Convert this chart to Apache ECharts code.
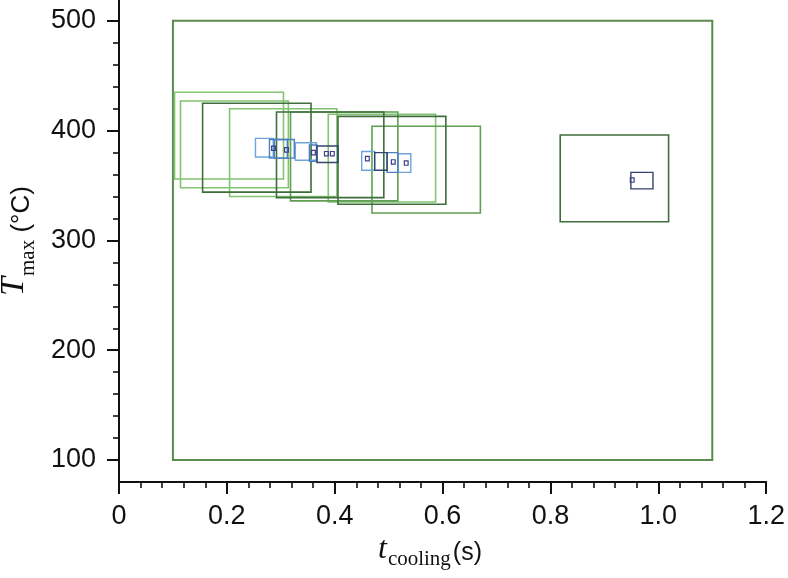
<!DOCTYPE html>
<html>
<head>
<meta charset="utf-8">
<script src="https://cdn.jsdelivr.net/npm/echarts@6/dist/echarts.min.js"></script>
<style>html,body{margin:0;padding:0;background:#fff}#c{width:788px;height:578px}</style>
</head>
<body>
<div id="c"></div>
<script>
// Rectangles as [t0, t1, Tlow, Thigh]
const outerBox = [[0.1, 1.1, 100, 500]];
const greenLightBoxes = [
  [0.103, 0.305, 356, 435],
  [0.114, 0.314, 348, 427],
  [0.205, 0.404, 340, 420],
  [0.388, 0.587, 335, 415]
];
const greenMidBoxes = [
  [0.318, 0.517, 336, 417],
  [0.469, 0.670, 325, 404]
];
const greenDarkBoxes = [
  [0.155, 0.356, 344, 425],
  [0.292, 0.491, 339, 417],
  [0.406, 0.606, 333, 413],
  [0.818, 1.019, 317, 396]
];
const blueLightBoxes = [
  [0.253, 0.286, 376, 393],
  [0.327, 0.366, 373, 389],
  [0.450, 0.474, 364, 381],
  [0.517, 0.541, 362, 379]
];
const blueBoxes = [
  [0.279, 0.312, 375, 392],
  [0.288, 0.325, 375, 392],
  [0.353, 0.367, 372, 387],
  [0.497, 0.517, 362, 380]
];
const navyBoxes = [
  [0.367, 0.406, 371, 386],
  [0.474, 0.497, 364, 380],
  [0.949, 0.990, 347, 362]
];
const tinyBoxes = [
  [0.283, 0.290, 382, 386],
  [0.307, 0.314, 380.5, 384.5],
  [0.357, 0.364, 378, 382],
  [0.381, 0.388, 377, 381],
  [0.392, 0.399, 377, 381],
  [0.457, 0.464, 372.5, 376.5],
  [0.505, 0.512, 369.5, 373.5],
  [0.529, 0.536, 368.5, 372.5],
  [0.948, 0.955, 353, 357]
];
const xTicks = [0, 0.2, 0.4, 0.6, 0.8, 1.0, 1.2];
const yTicks = [100, 200, 300, 400, 500];
const yMinorTicks = [120, 140, 160, 180, 220, 240, 260, 280, 320, 340, 360, 380, 420, 440, 460, 480];

function boxSeries(data, color, width, z) {
  return {
    type: 'custom',
    data: data,
    encode: { x: [0, 1], y: [2, 3] },
    z: z,
    silent: true,
    renderItem: function (params, api) {
      const p0 = api.coord([api.value(0), api.value(3)]);
      const p1 = api.coord([api.value(1), api.value(2)]);
      return {
        type: 'rect',
        shape: { x: p0[0], y: p0[1], width: p1[0] - p0[0], height: p1[1] - p0[1] },
        style: { fill: 'none', stroke: color, lineWidth: width }
      };
    }
  };
}

const chart = echarts.init(document.getElementById('c'), null, { renderer: 'canvas' });
const labelFont = 'Liberation Sans, Arial, Helvetica, sans-serif';
chart.setOption({
  backgroundColor: '#ffffff',
  animation: false,
  grid: { left: 119, right: 19, top: 0, bottom: 96 },
  xAxis: {
    type: 'value', min: xTicks[0], max: xTicks[xTicks.length - 1], interval: 0.2,
    axisLine: { show: true, lineStyle: { color: '#111', width: 2 } },
    axisTick: { show: true, length: 12, lineStyle: { color: '#111', width: 2 } },
    minorTick: { show: true, splitNumber: 5, length: 6, lineStyle: { color: '#111', width: 1.6 } },
    splitLine: { show: false },
    axisLabel: {
      margin: 21, color: '#111', fontSize: 27, fontFamily: labelFont,
      formatter: function (v) { return v === 0 ? '0' : v.toFixed(1); }
    }
  },
  yAxis: [{
    type: 'value', min: 80, max: 519,
    axisLine: { show: true, lineStyle: { color: '#111', width: 2 } },
    axisTick: { show: true, length: 12, customValues: yTicks, lineStyle: { color: '#111', width: 2 } },
    splitLine: { show: false },
    axisLabel: { margin: 23, color: '#111', fontSize: 27, fontFamily: labelFont, customValues: yTicks }
  }, {
    type: 'value', min: 80, max: 519, position: 'left',
    axisLine: { show: false },
    axisTick: { show: true, length: 6, customValues: yMinorTicks, lineStyle: { color: '#111', width: 1.6 } },
    splitLine: { show: false },
    axisLabel: { show: false }
  }],
  graphic: [{
    type: 'text', x: 430, y: 554, silent: true,
    style: {
      text: '{i|t}{s|cooling}{n|(s)}',
      align: 'center', verticalAlign: 'middle', fill: '#111',
      rich: {
        i: { fontFamily: 'Liberation Serif, Times New Roman, serif', fontStyle: 'italic', fontSize: 32, lineHeight: 32, verticalAlign: 'bottom', padding: [0, 1, 4, 0], fill: '#111' },
        s: { fontFamily: 'Liberation Serif, Times New Roman, serif', fontSize: 21, lineHeight: 21, verticalAlign: 'bottom', padding: [0, 2, 0, 0], fill: '#111' },
        n: { fontFamily: labelFont, fontSize: 25, lineHeight: 25, verticalAlign: 'bottom', padding: [0, 0, 4, 0], fill: '#111' }
      }
    }
  }, {
    type: 'text', x: 22, y: 241, rotation: Math.PI / 2, silent: true,
    style: {
      text: '{i|T}{s|max}{n| (°C)}',
      align: 'center', verticalAlign: 'middle', fill: '#111',
      rich: {
        i: { fontFamily: 'Liberation Serif, Times New Roman, serif', fontStyle: 'italic', fontSize: 34, lineHeight: 34, verticalAlign: 'bottom', padding: [0, 1, 8, 0], fill: '#111' },
        s: { fontFamily: 'Liberation Serif, Times New Roman, serif', fontSize: 21, lineHeight: 21, verticalAlign: 'bottom', padding: [0, 0, 0, 0], fill: '#111' },
        n: { fontFamily: labelFont, fontSize: 26, lineHeight: 26, verticalAlign: 'bottom', padding: [0, 0, 4, 0], fill: '#111' }
      }
    }
  }],
  series: [
    boxSeries(outerBox, '#5a8a4f', 2, 2),
    boxSeries(greenLightBoxes, '#82c470', 1.6, 3),
    boxSeries(greenMidBoxes, '#5f9f52', 1.6, 3),
    boxSeries(greenDarkBoxes, '#3f6e3c', 1.6, 4),
    boxSeries(blueLightBoxes, '#6ea5dc', 1.4, 5),
    boxSeries(blueBoxes, '#4a7fc2', 1.4, 5),
    boxSeries(navyBoxes, '#33456c', 1.4, 6),
    boxSeries(tinyBoxes, '#3b3f86', 1.2, 7)
  ]
});
</script>
</body>
</html>
